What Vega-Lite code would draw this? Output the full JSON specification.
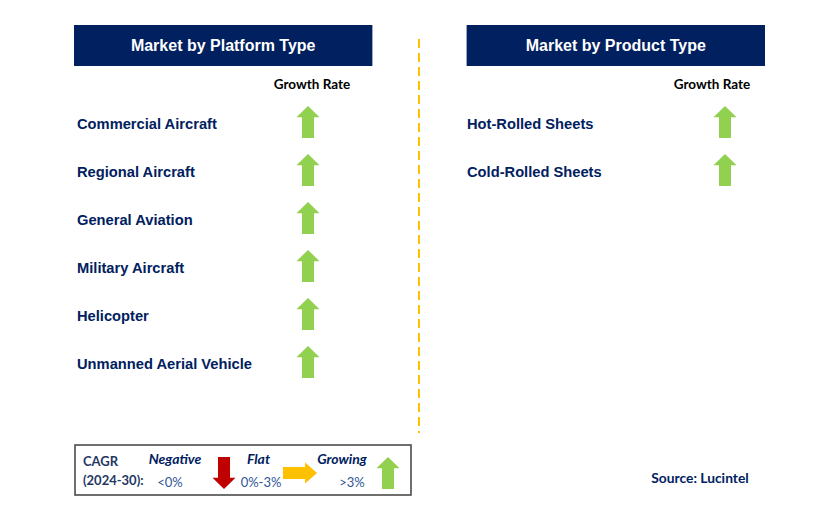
{
  "$schema": "https://vega.github.io/schema/vega-lite/v6.json",
  "width": 829,
  "height": 522,
  "padding": 0,
  "autosize": {"type": "fit", "contains": "padding"},
  "background": "white",
  "config": {"view": {"stroke": null}},
  "datasets": {
    "segments": [
      {"panel": "Market by Platform Type", "segment": "Commercial Aircraft", "rank": 1, "trend": "Growing"},
      {"panel": "Market by Platform Type", "segment": "Regional Aircraft", "rank": 2, "trend": "Growing"},
      {"panel": "Market by Platform Type", "segment": "General Aviation", "rank": 3, "trend": "Growing"},
      {"panel": "Market by Platform Type", "segment": "Military Aircraft", "rank": 4, "trend": "Growing"},
      {"panel": "Market by Platform Type", "segment": "Helicopter", "rank": 5, "trend": "Growing"},
      {"panel": "Market by Platform Type", "segment": "Unmanned Aerial Vehicle", "rank": 6, "trend": "Growing"},
      {"panel": "Market by Product Type", "segment": "Hot-Rolled Sheets", "rank": 1, "trend": "Growing"},
      {"panel": "Market by Product Type", "segment": "Cold-Rolled Sheets", "rank": 2, "trend": "Growing"}
    ],
    "panels": [
      {"panel": "Market by Platform Type", "column": "Growth Rate"},
      {"panel": "Market by Product Type", "column": "Growth Rate"}
    ],
    "cagr": [
      {"trend": "Negative", "range": "<0%"},
      {"trend": "Flat", "range": "0%-3%"},
      {"trend": "Growing", "range": ">3%"}
    ],
    "cagrLabel": [{"line": "CAGR"}, {"line": "(2024-30):"}],
    "notes": [{"note": "Source: Lucintel"}]
  },
  "layer": [
    {
      "data": {"values": [{}]},
      "mark": {"type": "rule", "stroke": "#FFC000", "strokeWidth": 2, "strokeDash": [9, 5]},
      "encoding": {
        "x": {"datum": "divider", "type": "nominal", "scale": {"type": "point", "domain": ["divider"], "range": [419, 419]}, "axis": null},
        "y": {"datum": "top", "type": "nominal", "scale": {"type": "point", "domain": ["top", "bottom"], "range": [39, 433], "padding": 0}, "axis": null},
        "y2": {"datum": "bottom"}
      }
    },
    {
      "data": {"name": "panels"},
      "mark": {"type": "rect", "fill": "#002060"},
      "encoding": {
        "x": {"field": "panel", "type": "nominal", "scale": {"type": "band", "domain": ["Market by Platform Type", "Market by Product Type"], "range": [74, 765], "paddingInner": 0.24, "paddingOuter": 0}, "axis": null},
        "y": {"datum": "header", "type": "nominal", "scale": {"type": "band", "domain": ["header"], "range": [25, 66], "paddingInner": 0, "paddingOuter": 0}, "axis": null}
      }
    },
    {
      "data": {"name": "panels"},
      "mark": {"type": "text", "color": "white", "font": "Liberation Sans", "fontWeight": "bold", "fontSize": 16, "baseline": "middle", "align": "center"},
      "encoding": {
        "x": {"field": "panel", "type": "nominal", "scale": {"type": "band", "domain": ["Market by Platform Type", "Market by Product Type"], "range": [74, 765], "paddingInner": 0.24, "paddingOuter": 0}, "axis": null},
        "y": {"datum": "header", "type": "nominal", "scale": {"type": "band", "domain": ["header"], "range": [25, 66], "paddingInner": 0, "paddingOuter": 0}, "axis": null},
        "text": {"field": "panel"}
      }
    },
    {
      "data": {"name": "panels"},
      "mark": {"type": "text", "color": "#000000", "font": "Lato", "fontWeight": "bold", "fontSize": 13.5, "baseline": "middle", "align": "center"},
      "encoding": {
        "x": {"field": "panel", "type": "nominal", "scale": {"type": "point", "domain": ["Market by Platform Type", "Market by Product Type"], "range": [312, 712], "padding": 0}, "axis": null},
        "y": {"datum": "column", "type": "nominal", "scale": {"type": "point", "domain": ["column"], "range": [85, 85]}, "axis": null},
        "text": {"field": "column"}
      }
    },
    {
      "data": {"name": "segments"},
      "mark": {"type": "text", "color": "#002060", "font": "Liberation Sans", "fontWeight": "bold", "fontSize": 14.7, "baseline": "middle", "align": "left"},
      "encoding": {
        "x": {"field": "panel", "type": "nominal", "scale": {"type": "point", "domain": ["Market by Platform Type", "Market by Product Type"], "range": [77, 467], "padding": 0}, "axis": null},
        "y": {"field": "rank", "type": "quantitative", "scale": {"domain": [1, 6], "range": [125, 365]}, "axis": null},
        "text": {"field": "segment"}
      }
    },
    {
      "data": {"name": "segments"},
      "mark": {"type": "point", "filled": true, "size": 1024, "opacity": 1, "strokeWidth": 0},
      "encoding": {
        "x": {"field": "panel", "type": "nominal", "scale": {"type": "point", "domain": ["Market by Platform Type", "Market by Product Type"], "range": [308, 725], "padding": 0}, "axis": null},
        "y": {"field": "rank", "type": "quantitative", "scale": {"domain": [1, 6], "range": [122, 362]}, "axis": null},
        "shape": {"field": "trend", "type": "nominal", "scale": {"domain": ["Negative", "Flat", "Growing"], "range": ["M0,1L0.72,0.3L0.375,0.3L0.375,-1L-0.375,-1L-0.375,0.3L-0.72,0.3Z", "M0.69,0L-0.06,-0.66L-0.06,-0.375L-1.44,-0.375L-1.44,0.375L-0.06,0.375L-0.06,0.66Z", "M0,-1L0.72,-0.3L0.375,-0.3L0.375,1L-0.375,1L-0.375,-0.3L-0.72,-0.3Z"]}, "legend": null},
        "color": {"field": "trend", "type": "nominal", "scale": {"domain": ["Negative", "Flat", "Growing"], "range": ["#C00000", "#FFC000", "#92D050"]}, "legend": null}
      }
    },
    {
      "data": {"values": [{}]},
      "mark": {"type": "rect", "fill": "white", "stroke": "#404040", "strokeWidth": 1.5},
      "encoding": {
        "x": {"datum": "left", "type": "nominal", "scale": {"type": "point", "domain": ["left", "right"], "range": [75, 411], "padding": 0}, "axis": null},
        "x2": {"datum": "right"},
        "y": {"datum": "top", "type": "nominal", "scale": {"type": "point", "domain": ["top", "bottom"], "range": [445, 495], "padding": 0}, "axis": null},
        "y2": {"datum": "bottom"}
      }
    },
    {
      "data": {"name": "cagrLabel"},
      "mark": {"type": "text", "color": "#1F3864", "font": "Lato", "fontWeight": "bold", "fontSize": 13, "baseline": "middle", "align": "left"},
      "encoding": {
        "x": {"datum": "label", "type": "nominal", "scale": {"type": "point", "domain": ["label"], "range": [83, 83]}, "axis": null},
        "y": {"field": "line", "type": "nominal", "scale": {"type": "point", "domain": ["CAGR", "(2024-30):"], "range": [462, 481], "padding": 0}, "axis": null},
        "text": {"field": "line"}
      }
    },
    {
      "data": {"name": "cagr"},
      "mark": {"type": "text", "color": "#002060", "font": "Lato", "fontWeight": "bold", "fontStyle": "italic", "fontSize": 14, "baseline": "middle", "align": "center"},
      "encoding": {
        "x": {"field": "trend", "type": "nominal", "scale": {"type": "point", "domain": ["Negative", "Flat", "Growing"], "range": [175, 342], "padding": 0}, "axis": null},
        "y": {"datum": "heading", "type": "nominal", "scale": {"type": "point", "domain": ["heading"], "range": [460, 460]}, "axis": null},
        "text": {"field": "trend"}
      }
    },
    {
      "data": {"name": "cagr"},
      "mark": {"type": "text", "color": "#2F5597", "font": "Lato", "fontSize": 13, "baseline": "middle", "align": "center"},
      "encoding": {
        "x": {"field": "trend", "type": "nominal", "scale": {"type": "point", "domain": ["Negative", "Flat", "Growing"], "range": [170, 352], "padding": 0}, "axis": null},
        "y": {"datum": "range", "type": "nominal", "scale": {"type": "point", "domain": ["range"], "range": [483, 483]}, "axis": null},
        "text": {"field": "range"}
      }
    },
    {
      "data": {"name": "cagr"},
      "mark": {"type": "point", "filled": true, "size": 1024, "opacity": 1, "strokeWidth": 0},
      "encoding": {
        "x": {"field": "trend", "type": "nominal", "scale": {"type": "point", "domain": ["Negative", "Flat", "Growing"], "range": [224, 388], "padding": 0}, "axis": null},
        "y": {"datum": "arrow", "type": "nominal", "scale": {"type": "point", "domain": ["arrow"], "range": [473, 473]}, "axis": null},
        "shape": {"field": "trend", "type": "nominal", "scale": {"domain": ["Negative", "Flat", "Growing"], "range": ["M0,1L0.72,0.3L0.375,0.3L0.375,-1L-0.375,-1L-0.375,0.3L-0.72,0.3Z", "M0.69,0L-0.06,-0.66L-0.06,-0.375L-1.44,-0.375L-1.44,0.375L-0.06,0.375L-0.06,0.66Z", "M0,-1L0.72,-0.3L0.375,-0.3L0.375,1L-0.375,1L-0.375,-0.3L-0.72,-0.3Z"]}, "legend": null},
        "color": {"field": "trend", "type": "nominal", "scale": {"domain": ["Negative", "Flat", "Growing"], "range": ["#C00000", "#FFC000", "#92D050"]}, "legend": null}
      }
    },
    {
      "data": {"name": "notes"},
      "mark": {"type": "text", "color": "#002060", "font": "Lato", "fontWeight": "bold", "fontSize": 13.8, "baseline": "middle", "align": "center"},
      "encoding": {
        "x": {"datum": "note", "type": "nominal", "scale": {"type": "point", "domain": ["note"], "range": [700, 700]}, "axis": null},
        "y": {"datum": "note", "type": "nominal", "scale": {"type": "point", "domain": ["note"], "range": [479, 479]}, "axis": null},
        "text": {"field": "note"}
      }
    }
  ],
  "resolve": {"scale": {"x": "independent", "y": "independent", "shape": "independent", "color": "independent"}}
}
